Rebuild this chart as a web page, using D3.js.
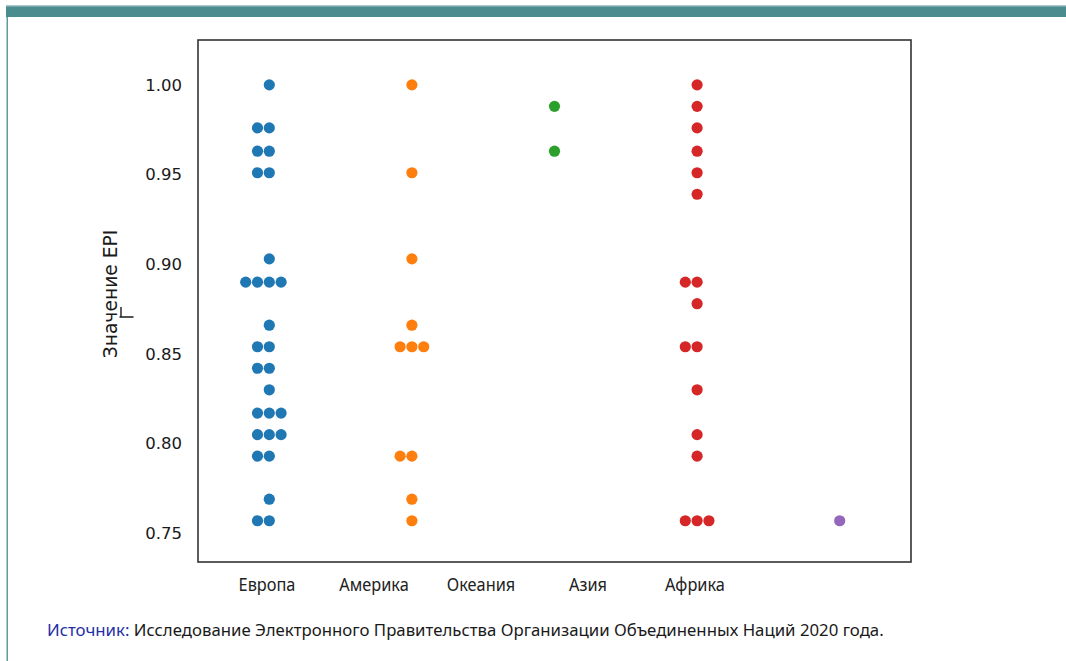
<!DOCTYPE html>
<html>
<head>
<meta charset="utf-8">
<script src="https://cdn.jsdelivr.net/npm/d3@7"></script>
<style>
  body { margin: 0; background: #fff; }
  svg { display: block; }
</style>
</head>
<body>
<div id="chart"></div>
<script>
// columns of the swarm, left to right
var regions = ["Европа", "Америка", "Океания", "Азия", "Африка"];
var colors = ["#1f77b4", "#ff7f0e", "#2ca02c", "#d62728", "#9467bd"];

// EPI values (repeats = stacked dots)
var europe = [1.000, 0.976, 0.976, 0.963, 0.963, 0.951, 0.951, 0.903,
  0.890, 0.890, 0.890, 0.890, 0.866, 0.854, 0.854, 0.842, 0.842, 0.830,
  0.817, 0.817, 0.817, 0.805, 0.805, 0.805, 0.793, 0.793, 0.769, 0.757, 0.757];
var america = [1.000, 0.951, 0.903, 0.866, 0.854, 0.854, 0.854, 0.793, 0.793, 0.769, 0.757];
var oceania = [0.988, 0.963];
var asia = [1.000, 0.988, 0.976, 0.963, 0.951, 0.939, 0.890, 0.890, 0.878,
  0.854, 0.854, 0.830, 0.805, 0.793, 0.757, 0.757, 0.757];
var africa = [0.757];

var yTicks = [0.75, 0.80, 0.85, 0.90, 0.95, 1.00];
var yTitle = "Значение EPI";
var sourceLabel = "Источник:";
var sourceText = " Исследование Электронного Правительства Организации Объединенных Наций 2020 года.";

var series = [europe, america, oceania, asia, africa];

var svgWidth = 1066, svgHeight = 661;
var box = {left: 198, right: 911, top: 40, bottom: 562};

var svg = d3.select("#chart").append("svg")
  .attr("width", svgWidth)
  .attr("height", svgHeight);

// page decoration: teal bar on top + thin line down the left
svg.append("rect").attr("x", 6).attr("y", 5).attr("width", svgWidth - 6).attr("height", 12).attr("fill", "#4b8c8f");
svg.append("rect").attr("x", 6).attr("y", 5).attr("width", svgWidth - 6).attr("height", 1.5).attr("fill", "#a8c6c7");
svg.append("rect").attr("x", 6.5).attr("y", 17).attr("width", 1.5).attr("height", svgHeight - 17).attr("fill", "#5f9a9c");

var x = d3.scaleBand()
  .domain(d3.range(regions.length))
  .range([box.left, box.right]);

var y = d3.scaleLinear()
  .domain([0.734, 1.025])
  .range([box.bottom, box.top]);

// y ticks (no tick marks, just labels)
var yAxis = d3.axisLeft(y).tickValues(yTicks).tickFormat(d3.format(".2f")).tickSize(0).tickPadding(16);
var gy = svg.append("g").attr("transform", `translate(${box.left},0)`).call(yAxis);
gy.select(".domain").remove();
gy.selectAll("text")
  .attr("font-family", "'DejaVu Sans', sans-serif")
  .attr("font-size", 16.5)
  .attr("fill", "#1a1a1a");

// swarm: equal values spread sideways 0, -1, +1, -2, +2 ...
var dotR = 5.6, dotStep = 11.8;
var points = [];
series.forEach(function(vals, i) {
  var seen = {};
  vals.forEach(function(v) {
    var key = v.toFixed(3);
    var n = seen[key] || 0;
    seen[key] = n + 1;
    var slot = n === 0 ? 0 : (n % 2 === 1 ? -(n + 1) / 2 : n / 2);
    points.push({col: i, value: v, slot: slot});
  });
});

svg.append("g").selectAll("circle")
  .data(points)
  .enter().append("circle")
  .attr("cx", d => x(d.col) + x.bandwidth() / 2 + d.slot * dotStep)
  .attr("cy", d => y(d.value))
  .attr("r", dotR)
  .attr("fill", d => colors[d.col]);

// frame
svg.append("rect")
  .attr("x", box.left).attr("y", box.top)
  .attr("width", box.right - box.left).attr("height", box.bottom - box.top)
  .attr("fill", "none").attr("stroke", "#333").attr("stroke-width", 1.6);

// y title
svg.append("text")
  .attr("transform", `translate(117,${(box.top + box.bottom) / 2 - 7}) rotate(-90)`)
  .attr("text-anchor", "middle")
  .attr("font-family", "'DejaVu Sans', sans-serif")
  .attr("font-size", 18.7)
  .attr("fill", "#1a1a1a")
  .text(yTitle);
// stray mark next to the title
svg.append("path")
  .attr("d", "M121,307V317M119.5,317H133.5")
  .attr("stroke", "#1a1a1a").attr("stroke-width", 1.4).attr("fill", "none");

// category labels (sit on their own spacing, not under the columns)
var xl = d3.scalePoint().domain(regions).range([267, 695]);
svg.append("g").selectAll("text")
  .data(regions)
  .enter().append("text")
  .attr("transform", d => `translate(${xl(d)},591) scale(0.86,1)`)
  .attr("text-anchor", "middle")
  .attr("font-family", "'Noto Sans', sans-serif")
  .attr("font-size", 19)
  .attr("fill", "#222")
  .text(d => d);

// source note
var src = svg.append("text")
  .attr("x", 47).attr("y", 636)
  .attr("font-family", "'Noto Sans', sans-serif")
  .attr("font-size", 16.8)
  .attr("fill", "#1a1a1a");
src.append("tspan").attr("fill", "#1f2fa8").text(sourceLabel);
src.append("tspan").text(sourceText);
</script>
</body>
</html>
